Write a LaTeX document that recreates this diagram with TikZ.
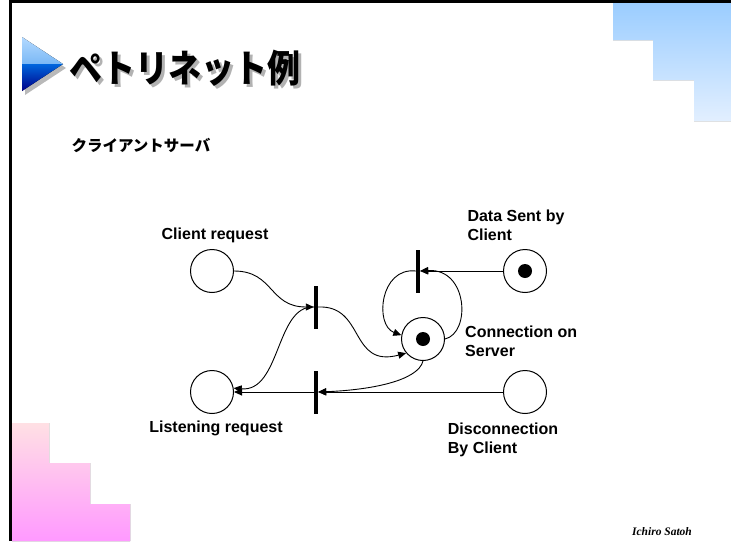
\documentclass[tikz,border=0pt]{standalone}
\usepackage{fontspec}
\setmainfont{Liberation Sans}
\newfontfamily\cjkfont{Noto Sans CJK JP}
\newfontfamily\sigfont{Liberation Serif}
\usepackage{graphicx}
\usepackage{xcolor}
\usetikzlibrary{shapes.geometric}
\usetikzlibrary{positioning}
\usetikzlibrary{arrows.meta,calc}

\definecolor{skyblue}{HTML}{99CCFF}
\definecolor{paleblue}{HTML}{E2EFFF}
\definecolor{palepink}{HTML}{FFE0E4}
\definecolor{hotpink}{HTML}{FF99FF}
\definecolor{bullettop}{HTML}{B3D9FF}
\definecolor{bulletmid}{HTML}{7AB8F5}
\definecolor{bulletblue}{HTML}{0066DD}
\definecolor{bulletnavy}{HTML}{000088}

\newcommand{\titletext}{\cjkfont\bfseries\fontsize{33}{33}\selectfont\scalebox{1}[1.15]{ペトリネット例}}

\begin{document}
\begin{tikzpicture} [
       x=1pt, y=-1pt,
       place/.style={circle, draw, line width=1pt, minimum size=43pt, inner sep=0pt},
       token/.style={circle, fill=black, minimum size=14pt, inner sep=0pt},
       trans/.style={rectangle, fill=black, minimum width=4pt, minimum height=43pt, inner sep=0pt},
       lbl/.style={font=\bfseries\fontsize{16}{19}\selectfont, inner sep=0pt, align=left},
       line/.style={draw, line width=0.9pt, -{Triangle[length=8pt,width=7pt]}},
       ]
       \useasboundingbox (0,0) rectangle (731,541);
       \fill[top color=skyblue, bottom color=paleblue] (613,0) -- (731,0) -- (731,121) -- (694,121) -- (694,80) -- (653,80) -- (653,40) -- (613,40) -- cycle;
       \fill[top color=palepink, bottom color=hotpink] (12,423) -- (49,423) -- (49,463) -- (90,463) -- (90,504) -- (130,504) -- (130,541) -- (12,541) -- cycle;
       \draw[line width=3pt] (10.5,541) -- (10.5,1.5) -- (731,1.5);

       \fill[gray!55] (25,41) -- (66,68) -- (25,95) -- cycle;
       \fill[top color=bullettop, bottom color=bulletmid] (22,37) -- (63,64) -- (22,64) -- cycle;
       \fill[top color=bulletblue, bottom color=bulletnavy] (22,64) -- (63,64) -- (22,91) -- cycle;
       \node (title) [anchor=west] at (66,70) {\rlap{\hspace{3pt}\raisebox{-3pt}{\color{gray!60}\titletext}}\titletext};
       \node (subtitle) [anchor=west] at (68,145) {\cjkfont\bfseries\fontsize{15.5}{15.5}\selectfont クライアントサーバ};
       \node (author) at (662,532) {\sigfont\bfseries\itshape\fontsize{11.5}{11.5}\selectfont Ichiro Satoh};

       \node (creq) [place] at (212,271) {};
       \node (lreq) [place] at (212,392) {};
       \node (conn) [place] at (423,339) {};
       \node (data) [place] at (525,271) {};
       \node (disc) [place] at (525,392) {};
       \node (conntok) [token] at (conn) {};
       \node (datatok) [token] at (data) {};
       \node (t1) [trans] at (316,307) {};
       \node (t2) [trans] at (316,392) {};
       \node (t3) [trans] at (418,271) {};

       \node (creqlbl) [lbl, above=6pt of creq, xshift=3pt] {Client request};
       \node (lreqlbl) [lbl, below=7pt of lreq, xshift=4pt] {Listening request};
       \node (datalbl) [lbl, above=8pt of data, xshift=-9pt] {Data Sent by\\Client};
       \node (connlbl) [lbl, right=20pt of conn, yshift=-2pt] {Connection on\\Server};
       \node (disclbl) [lbl, below=9pt of disc, xshift=-22pt] {Disconnection\\By Client};

        \begin{scope}[every path/.style=line]
        \path (creq.east) .. controls +(40,0) and +(-45,0) .. (t1.west);
        \path (t1.west) .. controls +(-38,-2) and +(47,4) .. (lreq.10);
        \path (t1.east) .. controls +(47,-2) and +(-57,15) .. (conn.220);
        \path (conn.south) .. controls +(-5,20) and +(52,-2) .. (t2.east);
        \path (disc.west) -- (t2.east);
        \path (t2.west) -- (lreq.east);
        \path (t3.west) .. controls +(-36,-4) and +(-27,-10) .. (conn.170);
        \path (conn.east) .. controls +(26,-6) and +(48,-3) .. (t3.east);
        \path (data.west) -- (t3.east);
        \end{scope}
\end{tikzpicture}
\end{document}
